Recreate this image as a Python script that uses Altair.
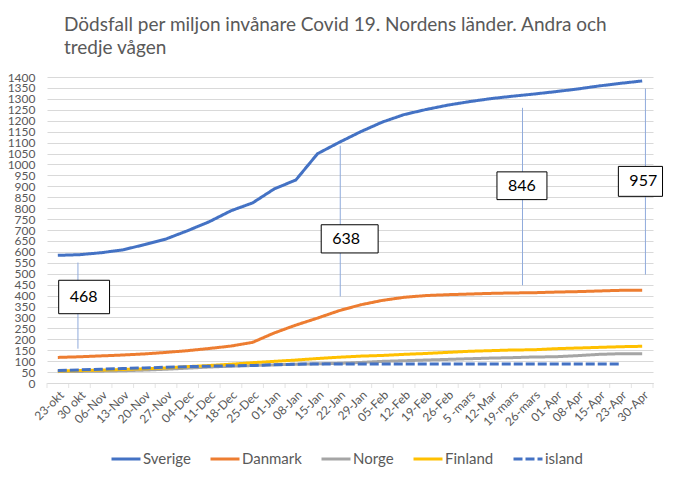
import altair as alt
import pandas as pd

# ---------------- data ----------------
dates = ["23-okt", "30 okt", "06-Nov", "13-Nov", "20-Nov", "27-Nov", "04-Dec",
         "11-Dec", "18-Dec", "25-Dec", "01-Jan", "08-Jan", "15-Jan", "22-Jan",
         "29-Jan", "05-Feb", "12-Feb", "19-Feb", "26-Feb", "5 -mars", "12-Mar",
         "19-mars", "26-mars", "01-Apr", "08-Apr", "15-Apr", "23-Apr", "30-Apr"]

countries = ["Sverige", "Danmark", "Norge", "Finland", "island"]

sverige = [584, 587, 596, 609, 633, 659, 697, 738, 788, 824, 888, 929, 1049, 1101,
           1150, 1194, 1228, 1251, 1271, 1287, 1301, 1312, 1322, 1333, 1345, 1359, 1371, 1382]
danmark = [117, 120, 124, 128, 133, 140, 148, 158, 169, 186, 229, 265, 297, 331,
           358, 378, 392, 400, 404, 407, 410, 412, 413, 416, 418, 421, 424, 424]
norge = [52, 53, 54, 56, 59, 63, 68, 73, 77, 80, 83, 86, 88, 90,
         94, 99, 102, 105, 108, 111, 114, 116, 119, 120, 125, 131, 134, 134]
finland = [55, 57, 59, 62, 65, 69, 75, 80, 86, 93, 99, 105, 112, 118,
           123, 126, 131, 135, 140, 145, 148, 151, 152, 157, 160, 163, 166, 168]
island = [57, 60, 63, 66, 69, 72, 75, 77, 79, 80, 84, 86, 87, 87,
          87, 87, 87, 87, 87, 87, 87, 87, 87, 87, 87, 87, 87, None]

colors = ["#4472C4", "#ED7D31", "#A5A5A5", "#FFC000", "#4472C4"]
dashes = [[1, 0], [1, 0], [1, 0], [1, 0], [9, 3]]

# annotations (x in category units, y in deaths per million)
ann_text = ["468", "638", "846", "957"]
ann_line_x = [0.93, 13.05, 21.47, 27.15]
ann_line_y1 = [157, 396, 447, 496]
ann_line_y2 = [551, 1086, 1259, 1347]
ann_box_x1 = [0.04, 12.17, 20.29, 25.90]
ann_box_x2 = [2.39, 14.80, 22.60, 27.94]
ann_box_y1 = [317, 595, 839, 854]
ann_box_y2 = [470, 724, 966, 991]

title_lines = ["Dödsfall per miljon invånare Covid 19. Nordens länder. Andra och",
               "tredje  vågen"]

# ---------------- tables ----------------
series = {"Sverige": sverige, "Danmark": danmark, "Norge": norge,
          "Finland": finland, "island": island}
rows = []
for c in countries:
    for i, v in enumerate(series[c]):
        if v is not None:
            rows.append({"country": c, "idx": i, "value": v})
lines_df = pd.DataFrame(rows)

ann_df = pd.DataFrame({
    "text": ann_text, "lx": ann_line_x, "ly1": ann_line_y1, "ly2": ann_line_y2,
    "bx1": ann_box_x1, "bx2": ann_box_x2, "by1": ann_box_y1, "by2": ann_box_y2,
})
ann_df["ty"] = (ann_df["by1"] + ann_df["by2"]) / 2

bounds_df = pd.DataFrame({"b": [i - 0.5 for i in range(len(dates) + 1)], "zero": 0})

# ---------------- styling ----------------
FONT = "Lato"
GREY = "#595959"
GRID = "#D9D9D9"

label_js = "[" + ",".join("'" + d + "'" for d in dates) + "]"
x_scale = alt.Scale(domain=[-0.5, len(dates) - 0.5], nice=False, zero=False)
y_scale = alt.Scale(domain=[0, 1400], nice=False, zero=True)

x_axis = alt.Axis(values=list(range(len(dates))), labelExpr=f"{label_js}[datum.value]",
                  labelAngle=-45, labelOverlap=False, labelFlush=False, tickCount=100,
                  ticks=False, grid=False, domainColor=GRID, labelFont=FONT,
                  labelFontSize=12, labelColor=GREY, labelPadding=6, title=None)
y_axis = alt.Axis(values=list(range(0, 1401, 50)), tickCount=100, ticks=False,
                  domain=False, grid=True, gridColor=GRID, labelFont=FONT,
                  labelFontSize=12, labelColor=GREY, labelPadding=12, format="d",
                  labelOverlap=False, title=None)

legend = alt.Legend(title=None, orient="none", legendX=63, legendY=366,
                    direction="horizontal", symbolType="stroke", symbolSize=841,
                    symbolStrokeWidth=3, labelFont=FONT, labelFontSize=15,
                    labelColor=GREY, labelOffset=1, columnPadding=13, padding=0)

# ---------------- layers ----------------
ticks = alt.Chart(bounds_df).mark_tick(color=GRID, size=5, thickness=1, yOffset=2.5,
                                       orient="vertical").encode(
    x=alt.X("b:Q", scale=x_scale, axis=x_axis),
    y=alt.Y("zero:Q", scale=y_scale, axis=y_axis),
)

ann_rules = alt.Chart(ann_df).mark_rule(color="#8FAADC", strokeWidth=1).encode(
    x=alt.X("lx:Q", scale=x_scale, axis=x_axis),
    y=alt.Y("ly1:Q", scale=y_scale, axis=y_axis),
    y2="ly2:Q",
)

lines = alt.Chart(lines_df).mark_line(strokeWidth=3).encode(
    x=alt.X("idx:Q", scale=x_scale, axis=x_axis),
    y=alt.Y("value:Q", scale=y_scale, axis=y_axis),
    color=alt.Color("country:N", scale=alt.Scale(domain=countries, range=colors),
                    legend=legend),
    strokeDash=alt.StrokeDash("country:N", scale=alt.Scale(domain=countries, range=dashes),
                              legend=legend),
)

ann_boxes = alt.Chart(ann_df).mark_rect(fill="white", stroke="black", strokeWidth=1).encode(
    x=alt.X("bx1:Q", scale=x_scale, axis=x_axis),
    x2="bx2:Q",
    y=alt.Y("by1:Q", scale=y_scale, axis=y_axis),
    y2="by2:Q",
)

ann_labels = alt.Chart(ann_df).mark_text(align="left", baseline="middle", dx=11,
                                         font=FONT, fontSize=16, color="black").encode(
    x=alt.X("bx1:Q", scale=x_scale, axis=x_axis),
    y=alt.Y("ty:Q", scale=y_scale, axis=y_axis),
    text="text:N",
)

chart = alt.layer(ticks, ann_rules, lines, ann_boxes, ann_labels).properties(
    width=606,
    height=306,
    autosize="none",
    padding={"left": 47, "top": 77, "right": 47, "bottom": 101},
    background="white",
    title=alt.TitleParams(text=title_lines, anchor="start", frame="group", font=FONT,
                          fontSize=19, fontWeight="normal", color=GREY, dx=17,
                          offset=13, lineHeight=23),
).configure_view(stroke=None)

chart.save("out.html", embed_options={"renderer": "svg", "actions": False})
